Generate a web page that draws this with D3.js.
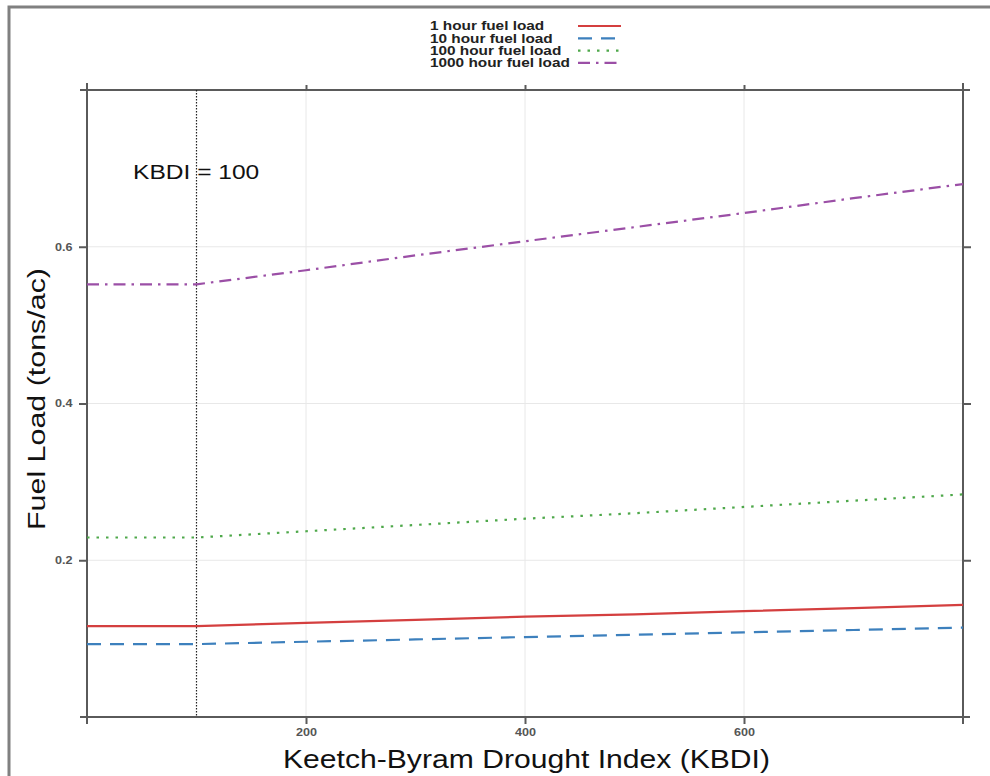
<!DOCTYPE html>
<html>
<head>
<meta charset="utf-8">
<script src="https://cdn.jsdelivr.net/npm/d3@7"></script>
<style>
  body { margin: 0; background: #fff; }
  svg { display: block; }
</style>
</head>
<body>
<svg id="chart" width="990" height="776"></svg>
<script>
// KBDI values and fuel loads
const kbdi = [0, 100, 200, 300, 400, 500, 600, 700, 800];
const load1h = [0.116, 0.116, 0.120, 0.124, 0.128, 0.131, 0.135, 0.139, 0.143];
const load10h = [0.093, 0.093, 0.096, 0.099, 0.102, 0.105, 0.108, 0.111, 0.114];
const load100h = [0.229, 0.229, 0.237, 0.245, 0.253, 0.260, 0.268, 0.276, 0.284];
const load1000h = [0.552, 0.552, 0.570, 0.589, 0.607, 0.625, 0.643, 0.662, 0.680];
const seriesNames = ["1 hour fuel load", "10 hour fuel load", "100 hour fuel load", "1000 hour fuel load"];
const xTicks = [200, 400, 600];
const yTicks = [0.2, 0.4, 0.6];
const refKbdi = 100;

const chartFuel = () => {
    const svg = d3.select('#chart');
    const left = 87, right = 963, top = 90, bottom = 717;
    const axisCol = "#5a5a5a";
    const font = "Liberation Sans, Arial, sans-serif";
    // the source picture is a bit wider than tall, text is stretched sideways
    const stretch = 1.2;

    const x = d3.scaleLinear().domain([0, 800]).range([left, right]);
    const y = d3.scaleLinear().domain([0, 0.8]).range([bottom, top]);

    // outer frame
    svg.append("path")
        .attr("d", "M9,800V7H1000")
        .attr("fill", "none")
        .attr("stroke", "#808080")
        .attr("stroke-width", 3);

    // grid
    const grid = svg.append("g").attr("stroke", "#e8e8e8").attr("stroke-width", 1);
    grid.selectAll("line.v").data(xTicks).join("line")
        .attr("x1", d => x(d)).attr("x2", d => x(d))
        .attr("y1", top).attr("y2", bottom);
    grid.selectAll("line.h").data(yTicks).join("line")
        .attr("x1", left).attr("x2", right)
        .attr("y1", d => y(d)).attr("y2", d => y(d));

    // axes
    const styleAxis = g => {
        g.select(".domain").remove();
        g.selectAll(".tick line").attr("stroke", axisCol).attr("stroke-width", 2);
        g.selectAll(".tick text")
            .attr("fill", "#555")
            .attr("font-family", font)
            .attr("font-size", 10.5)
            .attr("font-weight", "bold")
            .attr("transform", `scale(${stretch},1)`);
    };
    svg.append("g").attr("transform", `translate(0,${bottom})`)
        .call(d3.axisBottom(x).tickValues(xTicks).tickSize(7).tickPadding(5).tickFormat(d3.format("d")))
        .call(styleAxis);
    svg.append("g").attr("transform", `translate(0,${top})`)
        .call(d3.axisTop(x).tickValues(xTicks).tickSize(5).tickFormat(""))
        .call(styleAxis);
    svg.append("g").attr("transform", `translate(${left},0)`)
        .call(d3.axisLeft(y).tickValues(yTicks).tickSize(8).tickPadding(4).tickFormat(d3.format(".1f")))
        .call(styleAxis);
    svg.append("g").attr("transform", `translate(${right},0)`)
        .call(d3.axisRight(y).tickValues(yTicks).tickSize(8).tickFormat(""))
        .call(styleAxis);

    // panel box, lines run a little past the corners
    const ext = 7;
    const box = svg.append("g").attr("stroke", axisCol).attr("stroke-width", 2);
    box.append("line").attr("x1", left - ext).attr("x2", right + ext).attr("y1", top).attr("y2", top);
    box.append("line").attr("x1", left - ext).attr("x2", right + ext).attr("y1", bottom).attr("y2", bottom);
    box.append("line").attr("x1", left).attr("x2", left).attr("y1", top - ext).attr("y2", bottom + ext);
    box.append("line").attr("x1", right).attr("x2", right).attr("y1", top - ext).attr("y2", bottom + ext);

    // reference line at KBDI = 100
    svg.append("line")
        .attr("x1", x(refKbdi)).attr("x2", x(refKbdi))
        .attr("y1", top).attr("y2", bottom)
        .attr("stroke", "#222").attr("stroke-width", 1.2)
        .attr("stroke-dasharray", "1.5,1.5");
    svg.append("text")
        .attr("transform", `translate(133,179) scale(1.17,1)`)
        .attr("font-family", font)
        .attr("font-size", 21)
        .attr("fill", "#111")
        .text(`KBDI = ${refKbdi}`);

    // series
    const series = [
        { name: seriesNames[0], vals: load1h, col: "#d43f3f", dash: null },
        { name: seriesNames[1], vals: load10h, col: "#3d80bd", dash: "14,9" },
        { name: seriesNames[2], vals: load100h, col: "#4ea84a", dash: "2.5,7" },
        { name: seriesNames[3], vals: load1000h, col: "#9b4fa6", dash: "12,6,2.5,6" }
    ];
    const line = d3.line().x((d, i) => x(kbdi[i])).y(d => y(d));
    svg.append("g").attr("fill", "none")
        .selectAll("path")
        .data(series)
        .join("path")
        .attr("d", d => line(d.vals))
        .attr("stroke", d => d.col)
        .attr("stroke-width", 2.2)
        .attr("stroke-dasharray", d => d.dash);

    // legend
    const leg = svg.append("g")
        .selectAll("g")
        .data(series)
        .join("g")
        .attr("transform", (d, i) => `translate(0,${26 + i * 12.3})`);
    leg.append("text")
        .attr("transform", "translate(430,0) scale(1.28,1)")
        .attr("dy", "0.36em")
        .attr("font-family", font)
        .attr("font-size", 12)
        .attr("font-weight", 600)
        .attr("fill", "#222")
        .text(d => d.name);
    leg.append("line")
        .attr("x1", 578).attr("x2", 621)
        .attr("stroke", d => d.col)
        .attr("stroke-width", 2.2)
        .attr("stroke-dasharray", d => d.dash);

    // axis titles
    svg.append("text")
        .attr("x", 283).attr("y", 768)
        .attr("font-family", font)
        .attr("font-size", 25)
        .attr("fill", "#111")
        .attr("textLength", 487)
        .attr("lengthAdjust", "spacingAndGlyphs")
        .text("Keetch-Byram Drought Index (KBDI)");
    svg.append("text")
        .attr("transform", "translate(45,530) rotate(-90)")
        .attr("font-family", font)
        .attr("font-size", 23)
        .attr("fill", "#111")
        .attr("textLength", 262)
        .attr("lengthAdjust", "spacingAndGlyphs")
        .text("Fuel Load (tons/ac)");
};

chartFuel();
</script>
</body>
</html>
